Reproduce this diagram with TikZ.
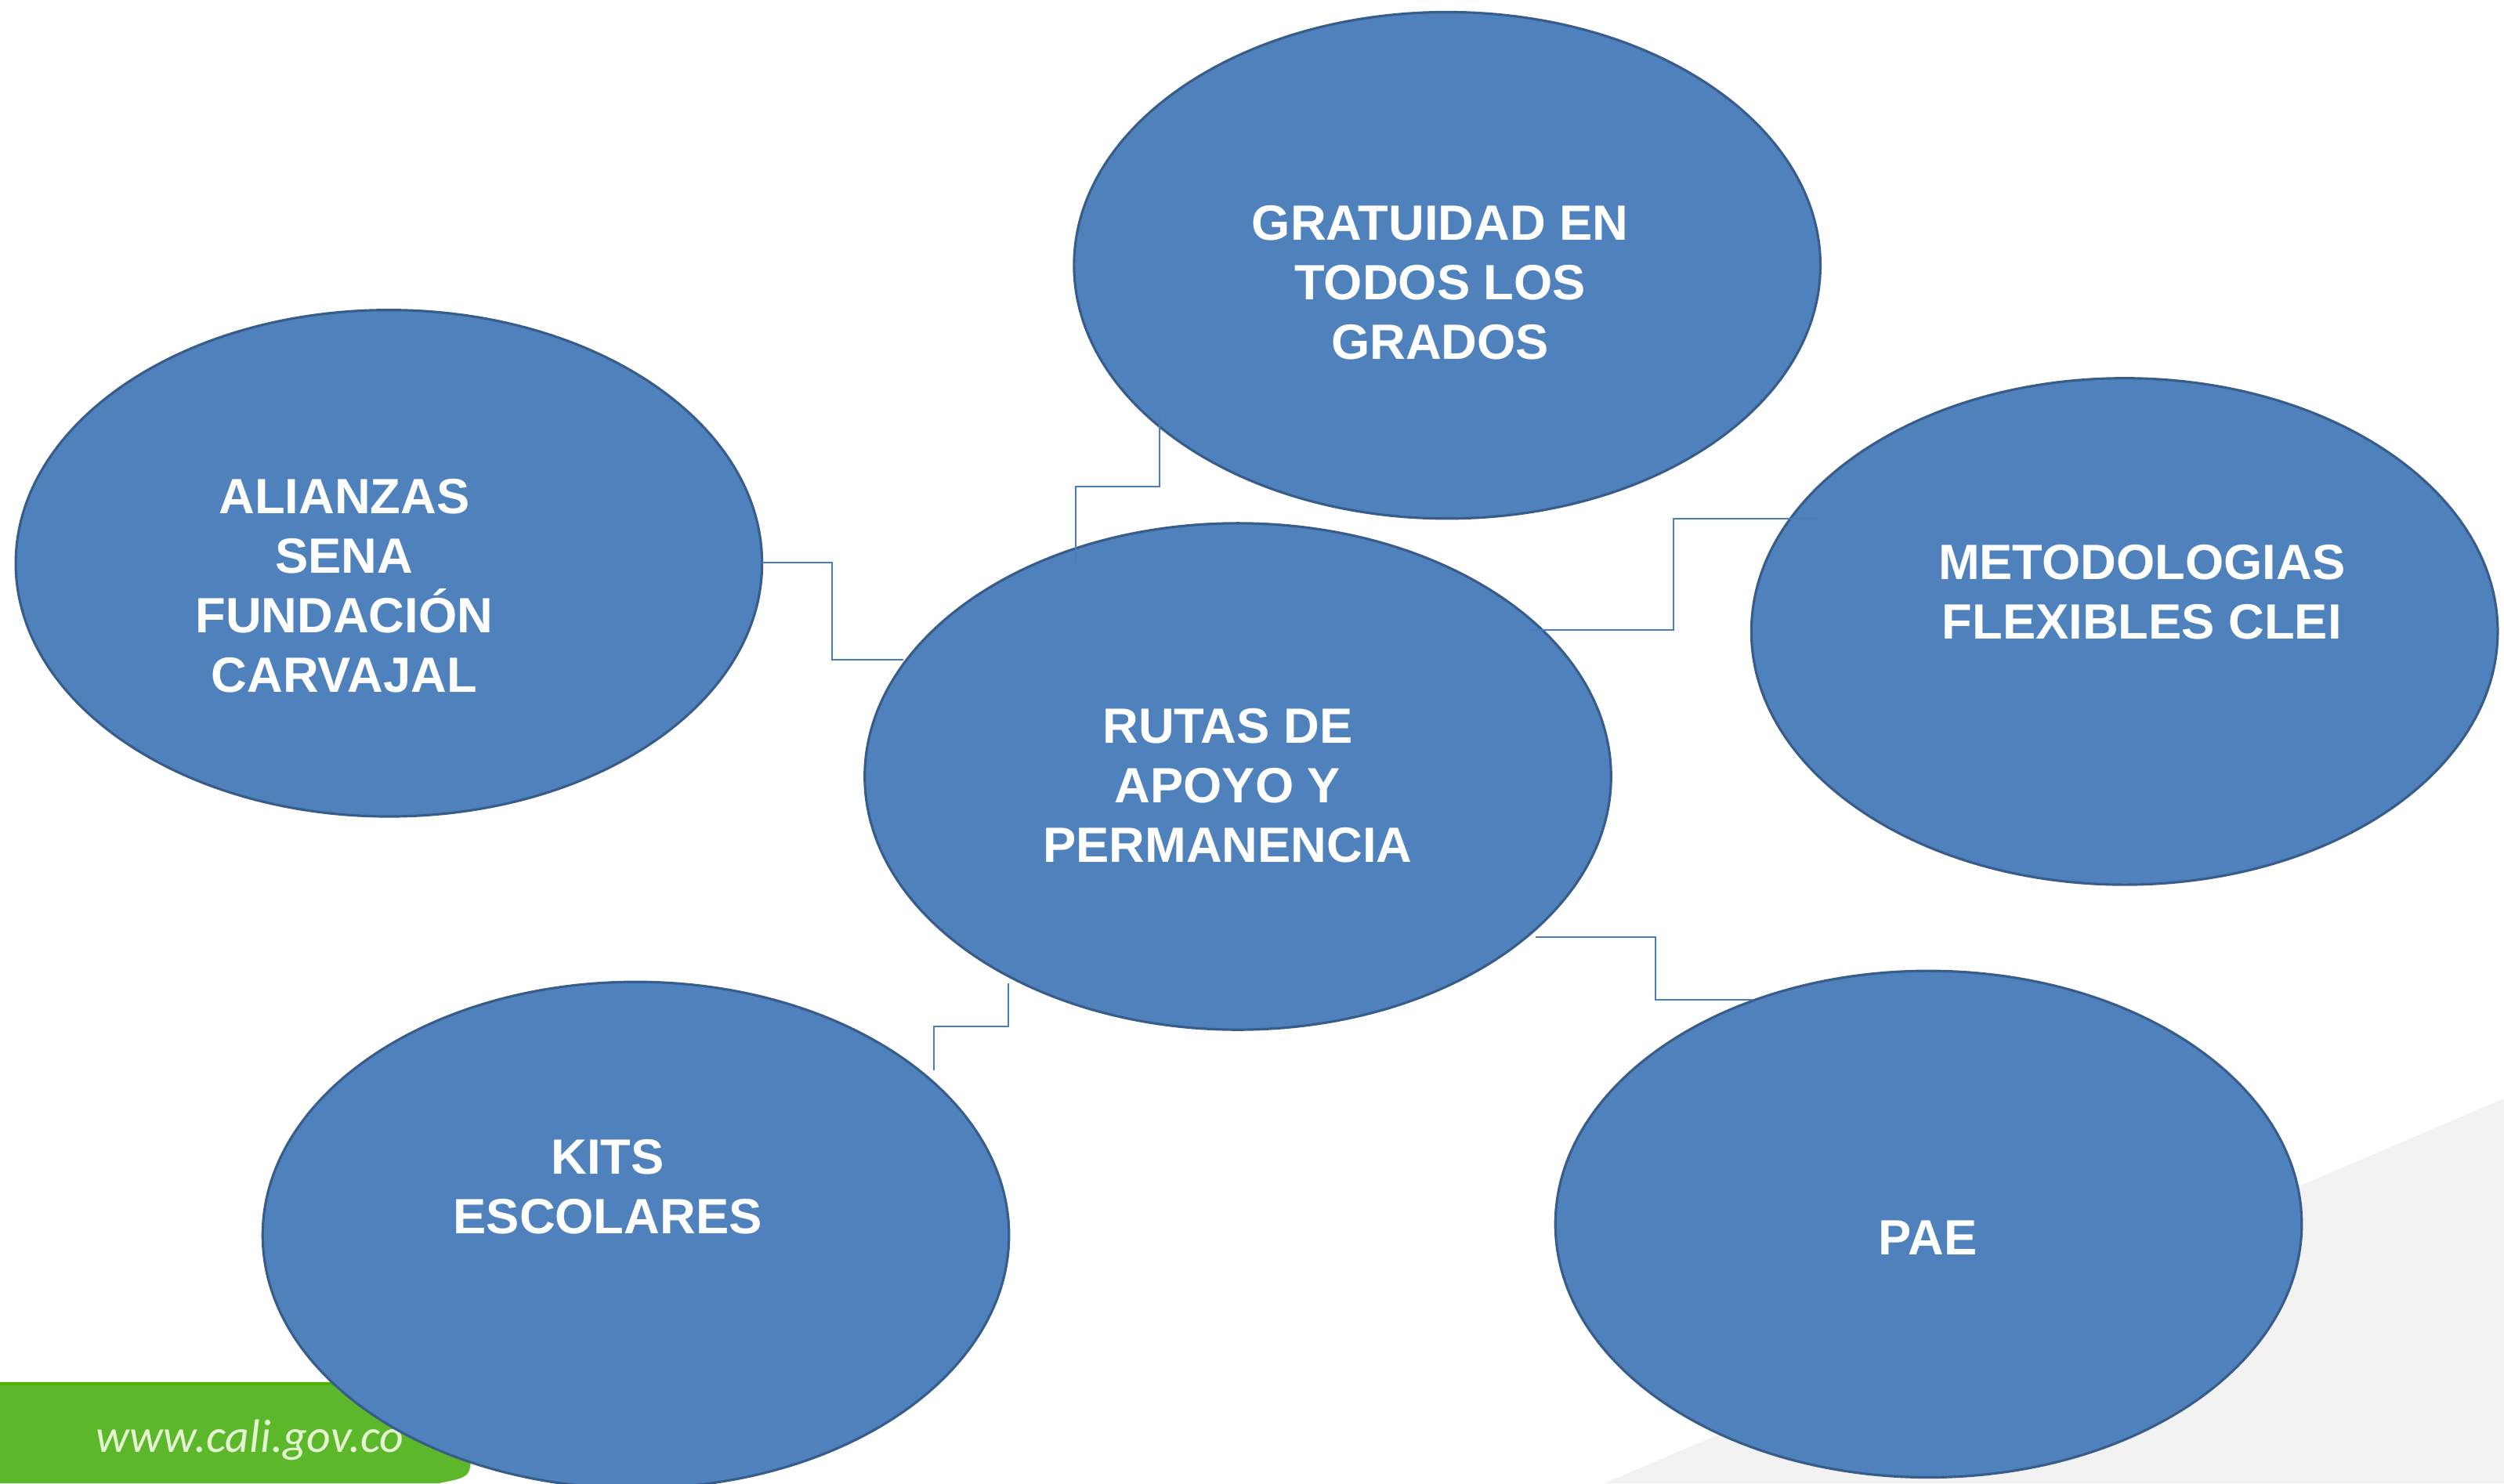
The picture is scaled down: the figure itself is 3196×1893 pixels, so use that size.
\documentclass[tikz,border=0pt]{standalone}
\usepackage{fontspec}
\setmainfont{Liberation Sans}
\newfontfamily\urlfont{Carlito}
\usetikzlibrary{positioning,shapes.geometric}
\definecolor{ovalblue}{HTML}{4F81BD}
\definecolor{ovalline}{HTML}{385D8A}
\definecolor{linkblue}{HTML}{4A7EBB}
\definecolor{bandgreen}{HTML}{5CB82A}
\definecolor{urlgreen}{HTML}{E4F4D2}

\begin{document}
\begin{tikzpicture}[x=0.01cm,y=-0.01cm,node distance=2.5cm,on grid]
	  \tikzstyle{oval}=[ellipse,fill=ovalblue,draw=ovalline,line width=0.9pt,minimum width=9.52cm,minimum height=6.46cm,inner sep=0pt]
	  \tikzstyle{lbl}=[text=white,align=center,inner sep=0pt,font=\bfseries\fontsize{18}{21.6}\selectfont]
	  \tikzstyle{link}=[draw=linkblue,line width=0.6pt]

	  \useasboundingbox (0,0) rectangle (3196,1893);

	  % backdrop
	  \fill[gray!10] (3196,1402) -- (3196,1893) -- (2048,1893) -- cycle;
	  \fill[bandgreen] (0,1765) -- (601,1765) -- (601,1850) .. controls (601,1885) .. (560,1893) -- (0,1893) -- cycle;
	  \draw[green!40!olive,line width=1pt] (0,1766) -- (560,1766);
	  \node[anchor=base west,inner sep=0pt,text=urlgreen,font=\urlfont\itshape\fontsize{17}{18}\selectfont] (url) at (122,1853) {www.cali.gov.co};

	  \node[oval] (cen) at (1580,991) {};
	  \node[oval] (grt) [above right=6.52cm and 2.67cm of cen] {};
	  \node[oval] (alz) [above left=2.72cm and 10.83cm of cen] {};
	  \node[oval] (met) [above right=1.85cm and 11.31cm of cen] {};
	  \node[oval] (kit) [below left=5.85cm and 7.68cm of cen] {};
	  \node[oval] (pae) [below right=5.71cm and 8.81cm of cen] {};

	  \node[lbl] (cenT) at ([shift={(-13,12)}]cen.center) {RUTAS DE\\APOYO Y\\PERMANENCIA};
	  \node[lbl] (grtT) at ([shift={(-9,22)}]grt.center) {GRATUIDAD EN\\TODOS LOS\\GRADOS};
	  \node[lbl] (alzT) at ([shift={(-57,29)}]alz.center) {ALIANZAS\\SENA\\FUNDACIÓN\\CARVAJAL};
	  \node[lbl] (metT) at ([shift={(22,-50)}]met.center) {METODOLOGIAS\\FLEXIBLES CLEI};
	  \node[lbl] (kitT) at ([shift={(-36,-62)}]kit.center) {KITS\\ESCOLARES};
	  \node[lbl] (paeT) at ([shift={(-1,17)}]pae.center) {PAE};

	  \draw[link] ([shift={(-367,186)}]grt.center) -- ++(0,96) -| ([shift={(-207,-274)}]cen.center);
	  \draw[link] ([shift={(370,-187)}]cen.center) -- ++(186,0) |- ([shift={(-389,-144)}]met.center);
	  \draw[link] ([shift={(476,-1)}]alz.center) -- ++(90,0) |- ([shift={(-427,-149)}]cen.center);
	  \draw[link] ([shift={(380,205)}]cen.center) -- ++(153,0) |- ([shift={(-224,-286)}]pae.center);
	  \draw[link] ([shift={(-293,264)}]cen.center) -- ++(0,55) -| ([shift={(380,-210)}]kit.center);
	\end{tikzpicture}
\end{document}
